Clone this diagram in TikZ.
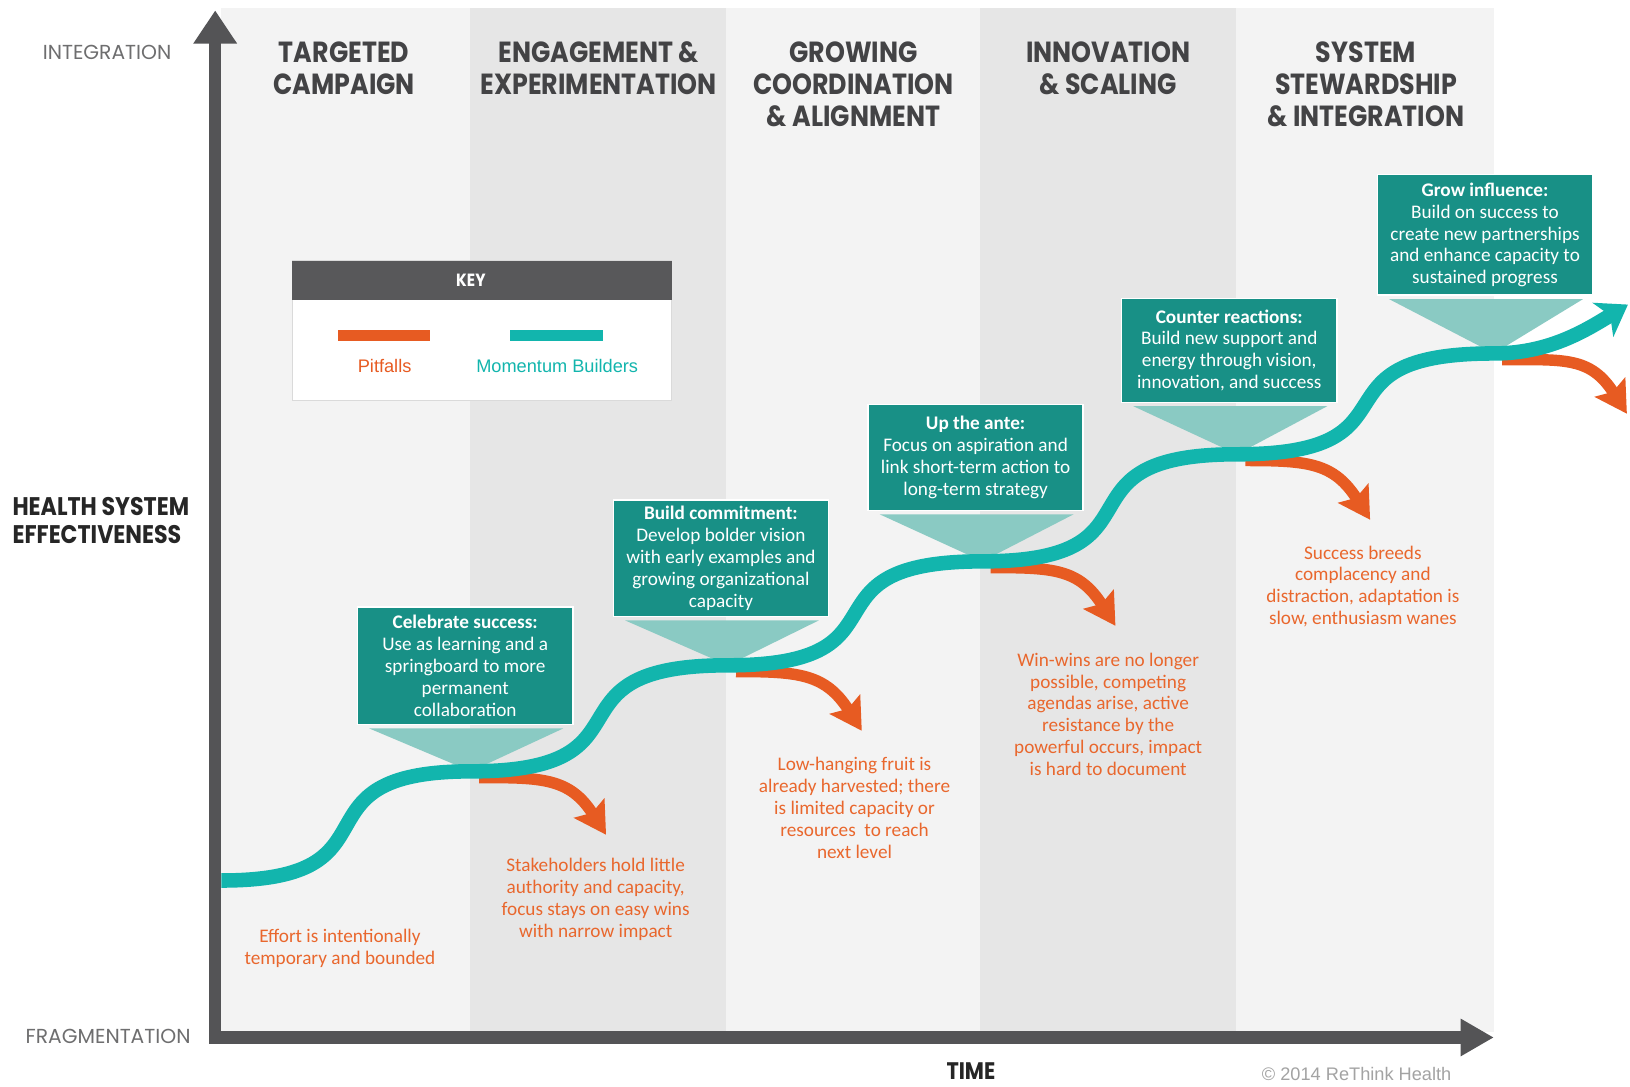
\documentclass[tikz,border=0pt]{standalone}
\usepackage{fontspec}
\setmainfont{Carlito}
\newfontfamily\titlef[FakeStretch=0.87]{Poppins}
\newfontfamily\boldf[FakeStretch=0.87]{Poppins}
\newfontfamily\axisf{Poppins}
\newfontfamily\arialf{Liberation Sans}
\usetikzlibrary{arrows.meta}
\definecolor{panelL}{HTML}{F3F3F3}
\definecolor{panelD}{HTML}{E6E6E6}
\definecolor{axisc}{HTML}{545456}
\definecolor{titlec}{HTML}{434345}
\definecolor{wavec}{HTML}{12B5AD}
\definecolor{boxc}{HTML}{189086}
\definecolor{tric}{HTML}{8ACAC3}
\definecolor{pitc}{HTML}{E75B22}
\definecolor{pittext}{HTML}{E9672D}
\definecolor{keyhead}{HTML}{58585A}
\definecolor{keyborder}{HTML}{DADADA}
\definecolor{copyc}{HTML}{A3A3A3}
\tikzset{
  phase/.style={anchor=north, inner sep=0pt, align=center, text=titlec,
    font=\titlef\bfseries\fontsize{28}{31}\selectfont},
  axislabel/.style={inner sep=0pt, text=axisc!85, font=\axisf\fontsize{19.5}{22}\selectfont},
  boldlabel/.style={inner sep=0pt, text=black!85,
    font=\boldf\bfseries\fontsize{24.5}{27}\selectfont},
  tbox/.style={fill=boxc, draw=white, line width=1.5pt, text=white, align=center,
    minimum width=207pt, inner sep=0pt, font=\fontsize{18.5}{21}\selectfont},
  pointer/.style={fill=tric},
  pittxt/.style={inner sep=0pt, align=center, text=pittext, font=\fontsize{18.5}{21}\selectfont},
  wave/.style={draw=wavec, line width=14pt, -{Stealth[length=28pt,width=38pt,inset=8pt]}},
  pit/.style={draw=pitc, line width=11pt, -{Stealth[length=30pt,width=34pt,inset=5pt]}},
  axisline/.style={draw=axisc, line width=12pt, line join=miter,
    {Triangle[length=32pt,width=40pt]}-{Triangle[length=32pt,width=34pt]}},
  keybar/.style={minimum width=89pt, minimum height=11pt, inner sep=0pt},
  keytxt/.style={inner sep=0pt, font=\arialf\fontsize{17.5}{20}\selectfont}
}
\begin{document}
\begin{tikzpicture}[x=1pt,y=-1pt]
\useasboundingbox (0,0) rectangle (1568,1044.7);
\fill[white] (0,0) rectangle (1568,1044.7);
% panels
\fill[panelL] (213,8) rectangle (452,993);
\fill[panelD] (452,8) rectangle (698,993);
\fill[panelL] (698,8) rectangle (943,993);
\fill[panelD] (943,8) rectangle (1189,993);
\fill[panelL] (1189,8) rectangle (1437,993);
% phase titles
\node[phase] (ph1) at (331,40) {TARGETED\\CAMPAIGN};
\node[phase] (ph2) at (576,40) {ENGAGEMENT \&\\EXPERIMENTATION};
\node[phase] (ph3) at (821,40) {GROWING\\COORDINATION\\\& ALIGNMENT};
\node[phase] (ph4) at (1066,40) {INNOVATION\\\& SCALING};
\node[phase] (ph5) at (1314,40) {SYSTEM\\STEWARDSHIP\\\& INTEGRATION};
% axes
\coordinate (ytop) at (207,10);
\coordinate (origin) at (207,998);
\coordinate (xend) at (1437,998);
\draw[axisline] (ytop) -- (origin) -- (xend);
\node[axislabel] (integ) at (103,50) {INTEGRATION};
\node[axislabel] (frag) at (104,997) {FRAGMENTATION};
\node[boldlabel, align=left] (hse) at (97,501) {HEALTH SYSTEM\\EFFECTIVENESS};
\node[boldlabel, font=\boldf\bfseries\fontsize{23}{25}\selectfont] (time) at (934,1030) {TIME};
\node[inner sep=0pt, text=copyc, font=\arialf\fontsize{17.5}{20}\selectfont] (copy) at (1305,1033) {© 2014 ReThink Health};
% key
\node[draw=keyborder, fill=white, line width=1pt, minimum width=365pt, minimum height=134pt, inner sep=0pt] (key) at (463.5,318) {};
\node[fill=keyhead, minimum width=365pt, minimum height=38pt, inner sep=0pt, anchor=north] (keyh) at (key.north) {};
\node[inner sep=0pt, text=white, font=\boldf\bfseries\fontsize{17}{20}\selectfont] (keyt) at (453,270) {KEY};
\node[keybar, fill=pitc] (barP) at (369.5,322.5) {};
\node[keybar, fill=wavec] (barM) at (535.5,322.5) {};
\node[keytxt, text=pitc] (lblP) at (370,352) {Pitfalls};
\node[keytxt, text=wavec] (lblM) at (536,352) {Momentum Builders};
% wave key points
\coordinate (w0) at (213,847);
\coordinate (w1) at (453,742);
\coordinate (w2) at (700,640);
\coordinate (w3) at (945,540);
\coordinate (w4) at (1190,437);
\coordinate (w5) at (1437,340);
\coordinate (wend) at (1566,293);
% pitfall arrows
\coordinate (t1) at (583,803);
\coordinate (t2) at (829,703);
\coordinate (t3) at (1073,602);
\coordinate (t4) at (1318,500);
\coordinate (t5) at (1565,398);
\draw[pit] ([shift={(8,6)}]w1) .. controls +(60,0) and +(-35,-55) .. (t1);
\draw[pit] ([shift={(8,6)}]w2) .. controls +(60,0) and +(-35,-55) .. (t2);
\draw[pit] ([shift={(8,6)}]w3) .. controls +(60,0) and +(-35,-55) .. (t3);
\draw[pit] ([shift={(8,6)}]w4) .. controls +(60,0) and +(-35,-55) .. (t4);
\draw[pit] ([shift={(8,6)}]w5) .. controls +(60,0) and +(-35,-55) .. (t5);
% boxes
\node[tbox, minimum height=113pt] (bA) at (447.5,640.5) {\textbf{Celebrate success:}\\Use as learning and a\\springboard to more\\permanent\\collaboration};
\node[tbox, minimum height=112pt] (bB) at (693.5,537) {\textbf{Build commitment:}\\Develop bolder vision\\with early examples and\\growing organizational\\capacity};
\node[tbox, minimum height=102pt] (bC) at (938.5,440) {\textbf{Up the ante:}\\Focus on aspiration and\\link short-term action to\\long-term strategy};
\node[tbox, minimum height=100pt] (bD) at (1182.5,337) {\textbf{Counter reactions:}\\Build new support and\\energy through vision,\\innovation, and success};
\node[tbox, minimum height=116pt] (bE) at (1428.5,226) {\textbf{Grow influence:}\\Build on success to\\create new partnerships\\and enhance capacity to\\sustained progress};
% pointers
\fill[pointer] ([shift={(12,3)}]bA.south west) -- ([shift={(-10,3)}]bA.south east) -- (w1) -- cycle;
\fill[pointer] ([shift={(12,3)}]bB.south west) -- ([shift={(-10,3)}]bB.south east) -- (w2) -- cycle;
\fill[pointer] ([shift={(12,3)}]bC.south west) -- ([shift={(-10,3)}]bC.south east) -- (w3) -- cycle;
\fill[pointer] ([shift={(12,3)}]bD.south west) -- ([shift={(-10,3)}]bD.south east) -- (w4) -- cycle;
\fill[pointer] ([shift={(12,3)}]bE.south west) -- ([shift={(-10,3)}]bE.south east) -- (w5) -- cycle;
% momentum wave
\draw[wave] (w0) .. controls (393,847) and (273,742) .. (w1)
  .. controls (638,742) and (515,640) .. (w2)
  .. controls (884,640) and (761,540) .. (w3)
  .. controls (1129,540) and (1006,437) .. (w4)
  .. controls (1375,437) and (1252,340) .. (w5)
  .. controls (1490,340) and (1525,318) .. (wend);
% pitfall texts
\node[pittxt] (n1) at (327,912) {Effort is intentionally\\temporary and bounded};
\node[pittxt] (n2) at (573,865) {Stakeholders hold little\\authority and capacity,\\focus stays on easy wins\\with narrow impact};
\node[pittxt] (n3) at (822,777) {Low-hanging fruit is\\already harvested; there\\is limited capacity or\\resources\ \ to reach\\next level};
\node[pittxt] (n4) at (1066,687) {Win-wins are no longer\\possible, competing\\agendas arise, active\\resistance by the\\powerful occurs, impact\\is hard to document};
\node[pittxt] (n5) at (1311,564) {Success breeds\\complacency and\\distraction, adaptation is\\slow, enthusiasm wanes};
\end{tikzpicture}
\end{document}
